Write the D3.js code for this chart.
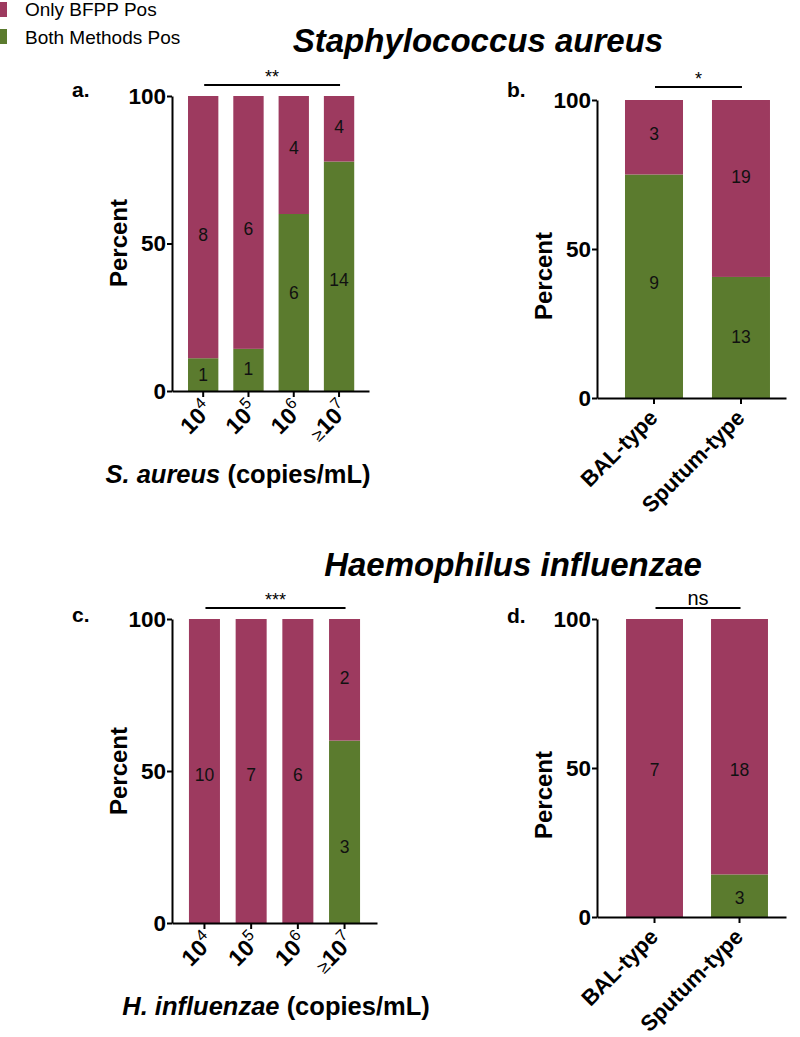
<!DOCTYPE html>
<html><head><meta charset="utf-8">
<script src="https://cdn.jsdelivr.net/npm/d3@7"></script>
<style>body{margin:0;background:#fff} text{font-family:"Liberation Sans",Arial,Helvetica,sans-serif}</style>
</head><body>
<svg id="chart" width="800" height="1037"></svg>
<script>
// ---------- data ----------
const seriesNames = ["Only BFPP Pos", "Both Methods Pos"];
const concCategories = ["10^4", "10^5", "10^6", "≥10^7"];
const typeCategories = ["BAL-type", "Sputum-type"];
const saConcOnly = [8, 6, 4, 4];
const saConcBoth = [1, 1, 6, 14];
const saTypeOnly = [3, 19];
const saTypeBoth = [9, 13];
const hiConcOnly = [10, 7, 6, 2];
const hiConcBoth = [0, 0, 0, 3];
const hiTypeOnly = [7, 18];
const hiTypeBoth = [0, 3];
const yTicks = [0, 50, 100];
const sigLabels = ["**", "*", "***", "ns"];
const titles = ["Staphylococcus aureus", "Haemophilus influenzae"];
// where each count label sits, in percent units
const saConcOnlyLabelAt = [52.9, 54.9, 82.4, 89.5];
const saConcBothLabelAt = [5.4, 7.5, 33.2, 37.6];
const saTypeOnlyLabelAt = [88.6, 74.2];
const saTypeBothLabelAt = [38.6, 20.5];
const hiConcOnlyLabelAt = [48.7, 48.7, 48.7, 80.6];
const hiConcBothLabelAt = [0, 0, 0, 25];
const hiTypeOnlyLabelAt = [49.3, 49.3];
const hiTypeBothLabelAt = [0, 6.4];

// ---------- style ----------
const PINK = "#9d3a5f", GREEN = "#5b7b2e";
const svg = d3.select("#chart");

// ---------- layout ----------
const panels = [
  {letter:"a.", cats:concCategories, only:saConcOnly, both:saConcBoth, onlyAt:saConcOnlyLabelAt, bothAt:saConcBothLabelAt,
   sig:sigLabels[0], xr:[172,369], pi:0.33, po:0.34, align:0.52, yr:[391,96], letterPos:[72,97], percentPos:[127,243], sigY:85,
   xtitle:["S. aureus"," (copies/mL)"], xtitlePos:[238,483]},
  {letter:"b.", cats:typeCategories, only:saTypeOnly, both:saTypeBoth, onlyAt:saTypeOnlyLabelAt, bothAt:saTypeBothLabelAt,
   sig:sigLabels[1], xr:[597,786], pi:0.333, po:0.253, align:0.636, yr:[398,100], letterPos:[507,97], percentPos:[552,276], sigY:87},
  {letter:"c.", cats:concCategories, only:hiConcOnly, both:hiConcBoth, onlyAt:hiConcOnlyLabelAt, bothAt:hiConcBothLabelAt,
   sig:sigLabels[2], xr:[172,377], pi:0.336, po:0.363, align:0.5, yr:[923,619], letterPos:[72,622], percentPos:[127,771], sigY:608,
   xtitle:["H. influenzae"," (copies/mL)"], xtitlePos:[276,1015]},
  {letter:"d.", cats:typeCategories, only:hiTypeOnly, both:hiTypeBoth, onlyAt:hiTypeOnlyLabelAt, bothAt:hiTypeBothLabelAt,
   sig:sigLabels[3], xr:[597,786], pi:0.33, po:0.277, align:0.617, yr:[917,619], letterPos:[507,623], percentPos:[552,795], sigY:608}
];

panels.forEach(p => {
  const g = svg.append("g");
  const x = d3.scaleBand().domain(p.cats).range(p.xr).paddingInner(p.pi).paddingOuter(p.po).align(p.align);
  const y = d3.scaleLinear().domain([0, 100]).range(p.yr);

  const rows = p.cats.map((c, i) => {
    const tot = p.only[i] + p.both[i];
    return {cat:c, both:p.both[i] / tot * 100, only:p.only[i] / tot * 100};
  });
  const stack = d3.stack().keys(["both", "only"])(rows);
  const colors = {both:GREEN, only:PINK};

  stack.forEach(layer => {
    g.selectAll(null).data(layer).join("rect")
      .attr("x", d => x(d.data.cat))
      .attr("width", x.bandwidth())
      .attr("y", d => y(d[1]))
      .attr("height", d => y(d[0]) - y(d[1]))
      .attr("fill", colors[layer.key]);
  });

  // count labels
  const lab = [];
  p.cats.forEach((c, i) => {
    if (p.only[i] > 0) lab.push({cat:c, v:p.only[i], at:p.onlyAt[i]});
    if (p.both[i] > 0) lab.push({cat:c, v:p.both[i], at:p.bothAt[i]});
  });
  g.selectAll(null).data(lab).join("text")
    .attr("x", d => x(d.cat) + x.bandwidth() / 2)
    .attr("y", d => y(d.at))
    .attr("dy", "0.36em")
    .attr("text-anchor", "middle")
    .attr("font-size", 17.5)
    .attr("fill", "#111")
    .text(d => d.v);

  // y axis
  const ya = g.append("g").attr("transform", `translate(${p.xr[0]},0)`)
    .call(d3.axisLeft(y).tickValues(yTicks).tickSize(5).tickPadding(1).tickSizeOuter(0));
  ya.select(".domain").attr("stroke", "#000").attr("stroke-width", 2);
  ya.selectAll(".tick line").attr("stroke", "#000").attr("stroke-width", 2);
  ya.selectAll(".tick text").attr("font-size", 22.5).attr("font-weight", "bold").attr("fill", "#000")
    .attr("font-family", '"Liberation Sans",Arial,sans-serif');

  // x axis
  const xa = g.append("g").attr("transform", `translate(0,${p.yr[0]})`)
    .call(d3.axisBottom(x).tickSize(6).tickSizeOuter(0).tickFormat(""));
  xa.select(".domain").attr("stroke", "#000").attr("stroke-width", 2);
  xa.selectAll(".tick line").attr("stroke", "#000").attr("stroke-width", 2);
  xa.selectAll(".tick text").remove();

  xa.selectAll(".tick").each(function(c) {
    const t = d3.select(this).append("text")
      .attr("fill", "#000")
      .attr("text-anchor", "end")
      .attr("font-family", '"Liberation Sans",Arial,sans-serif');
    if (c.includes("^")) {
      const ge = c.startsWith("≥");
      const [base, exp] = c.replace("≥", "").split("^");
      t.attr("transform", "translate(11,20) rotate(-45)");
      if (ge) t.append("tspan").attr("font-size", 18).text("≥");
      t.append("tspan").attr("font-size", 23).attr("font-weight", "bold").text(base);
      t.append("tspan").attr("font-size", 16).attr("dy", -10).text(exp);
    } else {
      t.attr("transform", "translate(5,21) rotate(-45)")
        .attr("font-size", 22).attr("font-weight", "bold").text(c);
    }
  });

  // y title
  g.append("text")
    .attr("transform", `translate(${p.percentPos[0]},${p.percentPos[1]}) rotate(-90)`)
    .attr("text-anchor", "middle").attr("font-size", 24).attr("font-weight", "bold")
    .text("Percent");

  // x title
  if (p.xtitle) {
    const t = g.append("text").attr("x", p.xtitlePos[0]).attr("y", p.xtitlePos[1])
      .attr("text-anchor", "middle").attr("font-size", 25.5).attr("font-weight", "bold");
    t.append("tspan").attr("font-style", "italic").text(p.xtitle[0]);
    t.append("tspan").text(p.xtitle[1]);
  }

  // panel letter
  g.append("text").attr("x", p.letterPos[0]).attr("y", p.letterPos[1])
    .attr("font-size", 21).attr("font-weight", "bold").text(p.letter);

  // significance bracket
  const c0 = x(p.cats[0]) + x.bandwidth() / 2;
  const c1 = x(p.cats[p.cats.length - 1]) + x.bandwidth() / 2;
  g.append("line").attr("x1", c0 + 1).attr("x2", c1 + 1).attr("y1", p.sigY).attr("y2", p.sigY)
    .attr("stroke", "#000").attr("stroke-width", 2);
  g.append("text").attr("x", (c0 + c1) / 2 + 1).attr("y", p.sig === "ns" ? p.sigY - 3 : p.sigY - 2)
    .attr("text-anchor", "middle").attr("font-size", p.sig === "ns" ? 20 : 18).text(p.sig);
});

// main titles
svg.append("text").attr("x", 478).attr("y", 52).attr("text-anchor", "middle")
  .attr("font-size", 33).attr("font-weight", "bold").attr("font-style", "italic").text(titles[0]);
svg.append("text").attr("x", 513).attr("y", 576).attr("text-anchor", "middle")
  .attr("font-size", 33).attr("font-weight", "bold").attr("font-style", "italic").text(titles[1]);

// legend
const leg = svg.append("g");
seriesNames.forEach((s, i) => {
  leg.append("rect").attr("x", -8).attr("y", 2 + i * 27).attr("width", 15).attr("height", 15)
    .attr("fill", i === 0 ? PINK : GREEN);
  leg.append("text").attr("x", 25).attr("y", 16 + i * 28).attr("font-size", 19).text(s);
});
</script>
</body></html>
